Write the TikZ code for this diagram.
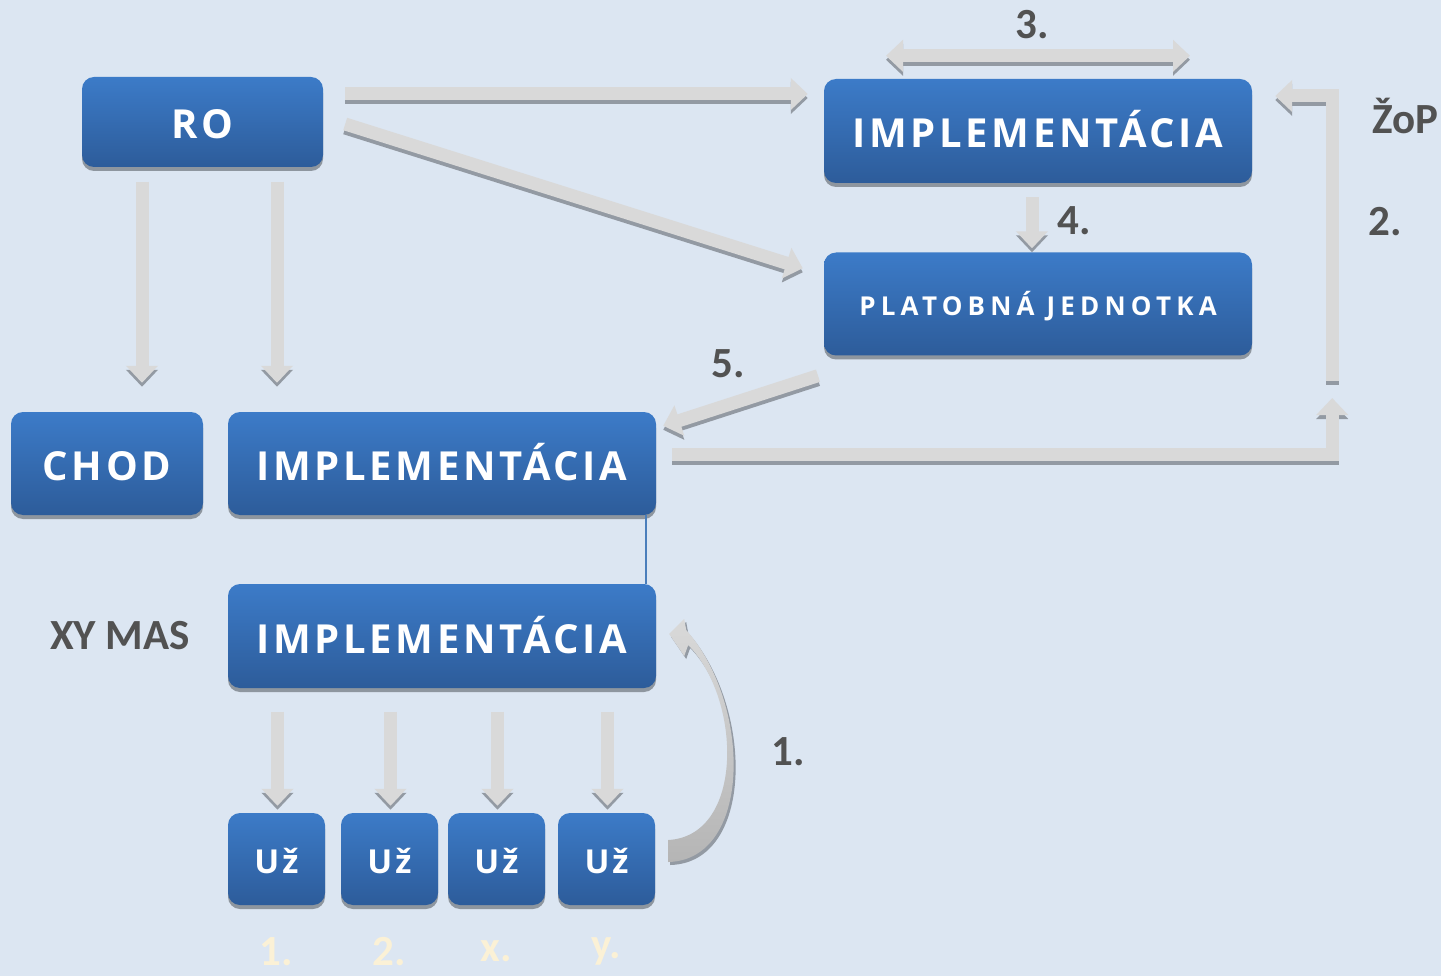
\documentclass[tikz,border=0pt]{standalone}
\usepackage{fontspec}
\usetikzlibrary{arrows.meta,calc,positioning,shadows}
\newfontfamily\boxfont[LetterSpace=9]{Open Sans}
\newfontfamily\widefont[LetterSpace=20]{Open Sans}
\newfontfamily\labelfont{Carlito}
\definecolor{bgblue}{HTML}{DCE6F2}
\definecolor{boxtop}{HTML}{3C7BC8}
\definecolor{boxbot}{HTML}{2D5C9A}
\definecolor{boxshade}{HTML}{8E969F}
\definecolor{arrowgrey}{HTML}{D9D9D9}
\definecolor{arrowshade}{HTML}{939AA3}
\definecolor{curvegrey}{HTML}{B5B5B5}
\definecolor{labelgrey}{HTML}{525252}
\definecolor{paletext}{HTML}{FBF1D6}
\definecolor{linkblue}{HTML}{4A7EBB}
\newcommand\bigboxtext{\boxfont\bfseries\fontsize{40}{46}\selectfont}
\newcommand\smallboxtext{\widefont\bfseries\fontsize{26}{30}\selectfont}
\newcommand\userboxtext{\boxfont\bfseries\fontsize{33}{38}\selectfont}
\newcommand\labeltext{\labelfont\bfseries\fontsize{43}{48}\selectfont}
% block arrow: darker copy shifted down, light copy on top
\newcommand\blockarrow[2]{%
    \draw[blockline, #1, draw=arrowshade, transform canvas={yshift=-4pt}] #2;
    \draw[blockline, #1] #2;}

\begin{document}
\begin{tikzpicture}[x=1pt,y=-1pt,
    box/.style={rectangle, rounded corners=12pt, top color=boxtop, bottom color=boxbot,
        text=white, inner sep=0pt, font=\bigboxtext, text height=34pt, text depth=0pt,
        drop shadow={shadow xshift=0pt, shadow yshift=-4pt, fill=boxshade, opacity=1}},
    widebox/.style={box, minimum width=428pt, minimum height=104pt},
    userbox/.style={box, minimum width=97pt, minimum height=92pt, font=\userboxtext, text height=28.5pt},
    blockline/.style={line width=13pt, draw=arrowgrey},
    headend/.style={-{Triangle[length=17pt,width=31pt]}},
    headboth/.style={{Triangle[length=17pt,width=31pt]}-{Triangle[length=17pt,width=31pt]}},
    numlabel/.style={text=labelgrey, font=\labeltext, inner sep=0pt},
    palelabel/.style={text=paletext, font=\labeltext, inner sep=0pt}]

    \useasboundingbox (0,0) rectangle (1441,976);
    \fill[bgblue] (0,0) rectangle (1441,976);

    % boxes
    \node[box, minimum width=241pt, minimum height=90pt] (RO) at (202.5,122) {RO};
    \node[widebox] (IMPLtop) at (1038,131) {IMPLEMENTÁCIA};
    \node[widebox, minimum height=103pt, font=\smallboxtext, text height=22.5pt] (PLAT) at (1038,304) {PLATOBNÁ JEDNOTKA};
    \node[box, minimum width=192pt, minimum height=103pt] (CHOD) at (107,463.5) {CHOD};
    \node[widebox, minimum height=103pt] (IMPLmid) at (442,463.5) {IMPLEMENTÁCIA};
    \node[widebox] (IMPLlow) at (442,636) {IMPLEMENTÁCIA};

    \foreach \n/\x/\t in {u1/276.5/1., u2/389.5/2., u3/496.5/x., u4/606.5/y.}{
        \node[userbox] (\n) at (\x,859) {Už};
        \node[palelabel] (\n lab) at ($(\n.south)+(0,46)$) {\t};
    }

    % labels
    \node[numlabel] (l3) at (1032,25) {3.};
    \node[numlabel] (lZoP) at (1405,116) {ŽoP};
    \node[numlabel] (l2) at (1385,222) {2.};
    \node[numlabel] (l4) at (1074,221) {4.};
    \node[numlabel] (l5) at (728,364) {5.};
    \node[numlabel] (l1) at (788,752) {1.};
    \node[numlabel] (lXY) at (120,636) {XY MAS};

    % thin link between the two lower boxes
    \draw[linkblue, line width=1.5pt] ($(IMPLmid.south east)+(-10,0)$) -- ($(IMPLlow.north east)+(-10,0)$);

    % arrows
    \blockarrow{headend}{($(RO.east)+(22,-28)$) -- ($(IMPLtop.west)+(-16,-37)$)}
    \blockarrow{headend}{($(RO.east)+(22,2)$) -- ($(PLAT.north west)+(-21,16)$)}
    \blockarrow{headend}{($(CHOD.north)+(35,-230)$) -- ($(CHOD.north)+(35,-29)$)}
    \blockarrow{headend}{($(IMPLmid.north)+(-165,-230)$) -- ($(IMPLmid.north)+(-165,-29)$)}
    \blockarrow{headboth}{($(IMPLtop.north)+(-152,-23)$) -- ($(IMPLtop.north)+(152,-23)$)}
    \blockarrow{headend}{($(IMPLtop.south)+(-6,14)$) -- ($(PLAT.north)+(-6,-4)$)}
    \blockarrow{headend}{($(PLAT.south)+(-220,20)$) -- ($(IMPLmid.north east)+(7,14)$)}
    \blockarrow{headend, line join=miter}{($(IMPLmid.east)+(16,-9)$) -| ($(IMPLtop.east)+(80,267)$)}
    \blockarrow{headend, line join=miter}{($(IMPLtop.east)+(80,250)$) |- ($(IMPLtop.east)+(23,-35)$)}
    \foreach \n in {u1,u2,u3,u4}{
        \blockarrow{headend}{($(\n.north)+(1,-101)$) -- ($(\n.north)+(1,-7)$)}
    }

    % curved arrow 1.
    \fill[arrowshade, transform canvas={shift={(2pt,-3pt)}}]
        ($(u4.east)+(13,3)$) .. controls ($(u4.east)+(97,1)$) and ($(IMPLlow.east)+(96,69)$) .. ($(IMPLlow.east)+(30,-6)$)
        -- ($(IMPLlow.east)+(28,-17)$) -- ($(IMPLlow.east)+(13,-2)$) -- ($(IMPLlow.east)+(28,20)$)
        -- ($(IMPLlow.east)+(32,9)$) .. controls ($(IMPLlow.east)+(86,64)$) and ($(u4.east)+(89,-23)$) .. ($(u4.east)+(13,-19)$)
        -- cycle;
    \shade[top color=arrowgrey, bottom color=curvegrey]
        ($(u4.east)+(13,3)$) .. controls ($(u4.east)+(97,1)$) and ($(IMPLlow.east)+(96,69)$) .. ($(IMPLlow.east)+(30,-6)$)
        -- ($(IMPLlow.east)+(28,-17)$) -- ($(IMPLlow.east)+(13,-2)$) -- ($(IMPLlow.east)+(28,20)$)
        -- ($(IMPLlow.east)+(32,9)$) .. controls ($(IMPLlow.east)+(86,64)$) and ($(u4.east)+(89,-23)$) .. ($(u4.east)+(13,-19)$)
        -- cycle;
\end{tikzpicture}
\end{document}
